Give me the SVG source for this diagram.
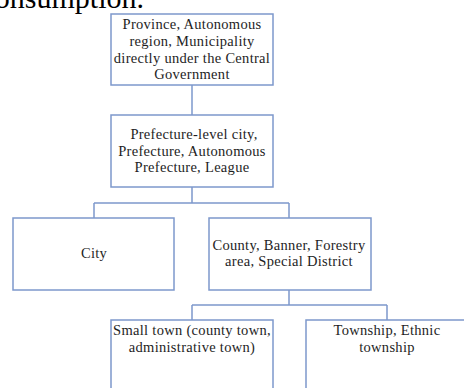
<svg xmlns="http://www.w3.org/2000/svg" width="464" height="388" viewBox="0 0 464 388">
<style>
.box{fill:#ffffff;stroke:#7d98cc;stroke-width:1.5}
.con{fill:none;stroke:#7d98cc;stroke-width:1.5}
.t{font-family:"Liberation Serif","Times New Roman",serif;font-size:14.5px;letter-spacing:0.3px;fill:#1e1e1e;text-anchor:middle}
.big{font-family:"Liberation Serif","Times New Roman",serif;font-size:30px;fill:#000;text-anchor:end}
</style>
<rect width="464" height="388" fill="#ffffff"/>
<text class="big" x="144" y="8">consumption.</text>
<g id="connectors">
<path class="con" d="M192 85V115"/>
<path class="con" d="M192 187V203M94 203H289M94 203V218M289 203V218"/>
<path class="con" d="M289 290V305M192 305H387M192 305V320M387 305V320"/>
</g>
<g id="n1">
<rect class="box" x="111" y="14" width="162" height="71"/>
<text class="t" x="192" y="29">Province, Autonomous</text>
<text class="t" x="192" y="46">region, Municipality</text>
<text class="t" x="192" y="62.5">directly under the Central</text>
<text class="t" x="192" y="79">Government</text>
</g>
<g id="n2">
<rect class="box" x="111" y="115" width="162" height="72"/>
<text class="t" x="194" y="139">Prefecture-level city,</text>
<text class="t" x="192" y="156">Prefecture, Autonomous</text>
<text class="t" x="192" y="172">Prefecture, League</text>
</g>
<g id="n3">
<rect class="box" x="13" y="218" width="161" height="72"/>
<text class="t" x="94" y="258">City</text>
</g>
<g id="n4">
<rect class="box" x="209" y="218" width="162" height="72"/>
<text class="t" x="289" y="249.5">County, Banner, Forestry</text>
<text class="t" x="289" y="266">area, Special District</text>
</g>
<g id="n5">
<rect class="box" x="111" y="320" width="162" height="80"/>
<text class="t" x="192" y="335">Small town (county town,</text>
<text class="t" x="192" y="352">administrative town)</text>
</g>
<g id="n6">
<rect class="box" x="306" y="320" width="170" height="80"/>
<text class="t" x="387" y="335">Township, Ethnic</text>
<text class="t" x="387" y="352">township</text>
</g>
</svg>
